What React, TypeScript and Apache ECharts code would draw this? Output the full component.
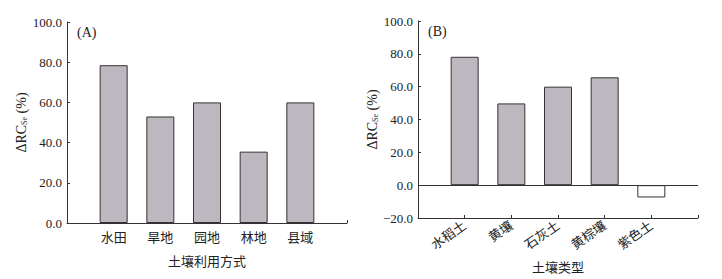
import React, { useEffect, useRef } from "react";
import * as echarts from "echarts";

const catsA = ["水田", "旱地", "园地", "林地", "县域"];
const valsA = [78.5, 53.0, 60.0, 35.5, 60.0];
const catsB = ["水稻土", "黄壤", "石灰土", "黄棕壤", "紫色土"];
const valsB = [78.2, 49.8, 60.0, 65.7, -7.5];
const yTicksA = [0, 20, 40, 60, 80, 100];
const yTicksB = [-20, 0, 20, 40, 60, 80, 100];

const FONT = '"Liberation Serif", "Noto Sans CJK SC", serif';
const AXIS = "#333";
const TEXT = "#222";
const BAR = "#bdb8bf";

function pad(c: string[]) {
  return ["", ...c, ""];
}

export default function App() {
  const ref = useRef<HTMLDivElement>(null);
  useEffect(() => {
    const chart = echarts.init(ref.current!, null, { renderer: "svg" });
    const yName = "ΔRC{sub|Se} (%)";
    const nameRich = {
      sub: { fontSize: 8, verticalAlign: "bottom", fontFamily: FONT, color: TEXT, padding: [6, 0, 0, 0] },
    };
    const yAxisCommon = (min: number, max: number) => ({
      type: "value",
      min,
      max,
      interval: 20,
      name: yName,
      nameLocation: "middle",
      nameGap: 35,
      nameTextStyle: { fontSize: 14, fontFamily: FONT, color: TEXT, rich: nameRich },
      axisLine: { show: true, lineStyle: { color: AXIS, width: 1 } },
      axisTick: { show: true, inside: true, length: 3, lineStyle: { color: AXIS } },
      axisLabel: {
        fontSize: 13,
        fontFamily: FONT,
        color: TEXT,
        margin: 5,
        formatter: (v: number) => v.toFixed(1).replace("-", "\u2212"),
      },
      splitLine: { show: false },
    });
    const xAxisCommon = (cats: string[], rotate: number, nameGap: number, name: string) => ({
      type: "category",
      data: pad(cats),
      boundaryGap: false,
      name,
      nameLocation: "middle",
      nameGap,
      nameTextStyle: { fontSize: 13, fontFamily: FONT, color: TEXT },
      axisLine: { show: true, onZero: false, lineStyle: { color: AXIS, width: 1 } },
      axisTick: { show: true, inside: true, length: 3, interval: 0, lineStyle: { color: AXIS } },
      axisLabel: {
        interval: 0,
        rotate,
        fontSize: 13,
        fontFamily: FONT,
        color: TEXT,
        margin: rotate ? 6 : 8,
      },
      splitLine: { show: false },
    });
    const option: any = {
      animation: false,
      textStyle: { fontFamily: FONT },
      grid: [
        { left: 67, width: 280, top: 22, height: 201 },
        { left: 418, width: 280, top: 21, height: 202 },
      ],
      xAxis: [
        { ...xAxisCommon(catsA, 0, 32, "土壤利用方式"), gridIndex: 0 },
        { ...xAxisCommon(catsB, 35, 43, "土壤类型"), gridIndex: 1 },
      ],
      yAxis: [
        { ...yAxisCommon(yTicksA[0], yTicksA[yTicksA.length - 1]), gridIndex: 0 },
        { ...yAxisCommon(yTicksB[0], yTicksB[yTicksB.length - 1]), gridIndex: 1 },
      ],
      graphic: [
        { type: "text", left: 77, top: 25, style: { text: "(A)", fontSize: 14, fontFamily: FONT, fill: TEXT } },
        { type: "text", left: 428, top: 24, style: { text: "(B)", fontSize: 14, fontFamily: FONT, fill: TEXT } },
      ],
      series: [
        {
          type: "bar",
          xAxisIndex: 0,
          yAxisIndex: 0,
          barWidth: 28,
          data: ["-", ...valsA, "-"],
          itemStyle: { color: BAR, borderColor: AXIS, borderWidth: 1 },
        },
        {
          type: "bar",
          xAxisIndex: 1,
          yAxisIndex: 1,
          barWidth: 28,
          data: [
            "-",
            ...valsB.map((v) =>
              v < 0
                ? { value: v, itemStyle: { color: "#fff", borderColor: AXIS, borderWidth: 1 } }
                : v
            ),
            "-",
          ],
          itemStyle: { color: BAR, borderColor: AXIS, borderWidth: 1 },
          markLine: {
            silent: true,
            symbol: "none",
            label: { show: false },
            lineStyle: { color: AXIS, width: 1, type: "solid" },
            data: [{ yAxis: 0 }],
          },
        },
      ],
    };
    chart.setOption(option);
    return () => chart.dispose();
  }, []);
  return (
    <div
      ref={ref}
      style={{ position: "fixed", left: 0, top: 0, width: 722, height: 279, background: "#fff" }}
    />
  );
}
